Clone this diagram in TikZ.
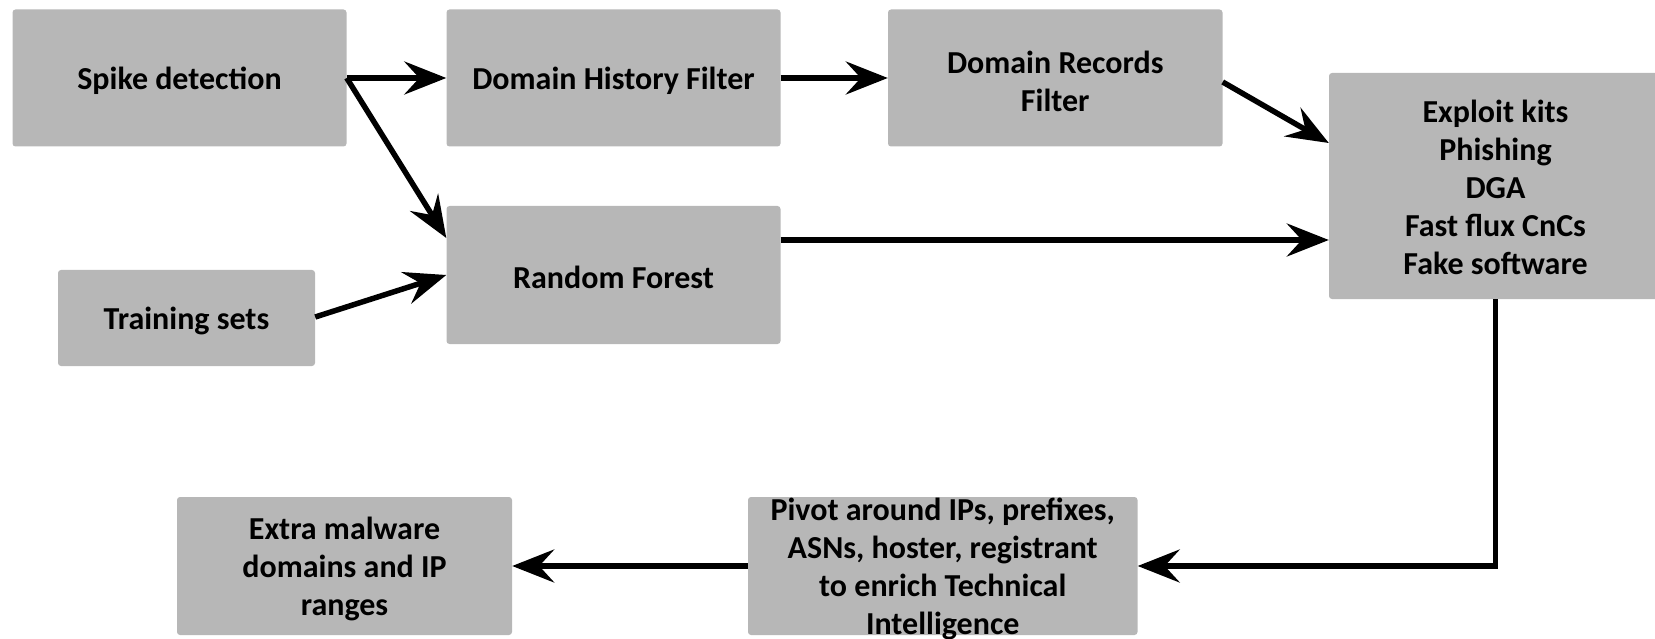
\documentclass[tikz,border=0pt]{standalone}
\usepackage{fontspec}
\setmainfont{Carlito}
\usetikzlibrary{arrows.meta}
\definecolor{boxgray}{RGB}{183,183,183}
\tikzset{
  stage/.style={fill=boxgray, rounded corners=3pt, inner sep=0pt},
  stagetext/.style={inner sep=0pt, align=center,
    font=\bfseries\fontsize{32}{38}\selectfont},
  flow/.style={line width=5.5pt, -{Stealth[length=42pt,width=33pt,inset=15pt]}},
}
\begin{document}
\begin{tikzpicture}[x=1pt,y=-1pt]
\useasboundingbox (0,0) rectangle (1655,639);
\begin{scope}
\clip (0,0) rectangle (1655,639);
% processing stages
\node[stage, minimum width=334pt, minimum height=137pt] (spike) at (179.5,78) {};
\node[stage, minimum width=334pt, minimum height=137pt] (dhf) at (613.5,78) {};
\node[stage, minimum width=334.5pt, minimum height=137pt] (drf) at (1055.25,78) {};
\node[stage, minimum width=333pt, minimum height=226pt] (expl) at (1495.5,186) {};
\node[stage, minimum width=334pt, minimum height=138pt] (rf) at (613.5,275) {};
\node[stage, minimum width=257pt, minimum height=96pt] (train) at (186.5,318) {};
\node[stage, minimum width=335pt, minimum height=138pt] (extra) at (344.5,566) {};
\node[stage, minimum width=389.5pt, minimum height=138pt] (pivot) at (942.75,566) {};
% stage labels
\node[stagetext] (spike-t) at ([yshift=-3pt]spike.center) {Spike detection};
\node[stagetext] (dhf-t) at ([yshift=-3pt]dhf.center) {Domain History Filter};
\node[stagetext] (drf-t) at ([yshift=-3pt]drf.center) {Domain Records\\Filter};
\node[stagetext] (expl-t) at ([yshift=-1pt]expl.center) {Exploit kits\\Phishing\\DGA\\Fast flux CnCs\\Fake software};
\node[stagetext] (rf-t) at ([yshift=-2pt]rf.center) {Random Forest};
\node[stagetext] (train-t) at ([yshift=-3pt]train.center) {Training sets};
\node[stagetext] (extra-t) at ([yshift=-3pt]extra.center) {Extra malware\\domains and IP\\ranges};
\node[stagetext] (pivot-t) at ([yshift=-3pt]pivot.center) {Pivot around IPs, prefixes,\\ASNs, hoster, registrant\\to enrich Technical\\Intelligence};
% connectors
\draw[flow] (spike.east) -- (dhf.west);
\draw[flow] (spike.east) -- ([yshift=37pt]rf.west);
\draw[flow] (dhf.east) -- (drf.west);
\draw[flow] ([yshift=-4pt]drf.east) -- ([yshift=43pt]expl.west);
\draw[flow] ([yshift=35pt]rf.east) -- ([yshift=-54pt]expl.west);
\draw[flow] ([yshift=1pt]train.east) -- (rf.west);
\draw[flow] (expl.south) |- (pivot.east);
\draw[flow] (pivot.west) -- (extra.east);
\end{scope}
\end{tikzpicture}
\end{document}
